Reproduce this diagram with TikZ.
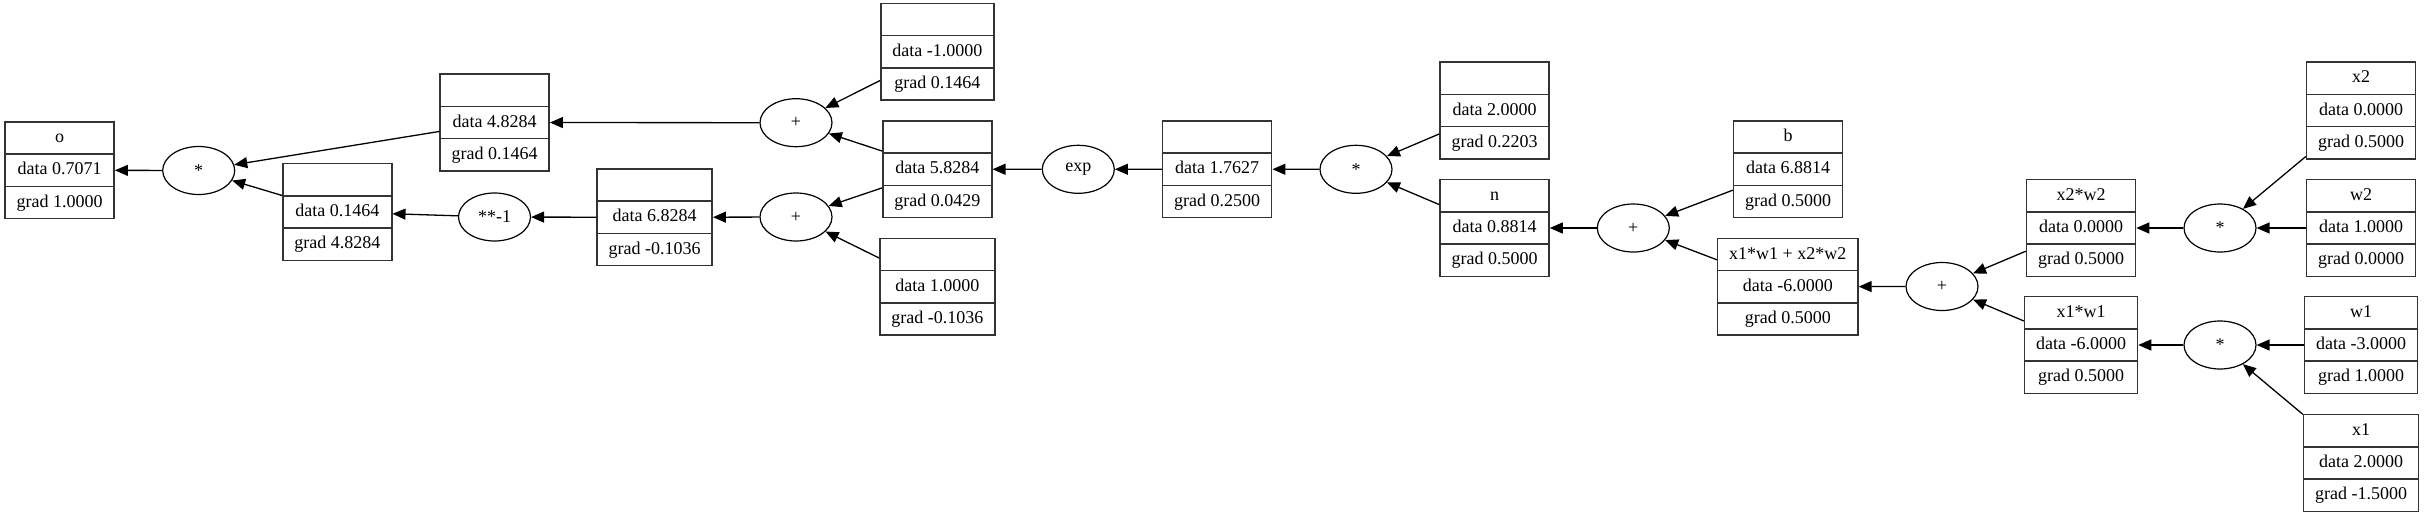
\documentclass[tikz,border=0pt]{standalone}
\usepackage{fontspec}
\setmainfont{Liberation Serif}
\usepackage{tikz}
\usetikzlibrary{shapes.multipart, shapes.geometric, arrows.meta}
\tikzset{every node/.append style={font=\fontsize{18}{20}\selectfont},
  val/.style={rectangle split, rectangle split parts=3, draw=black!80, line width=1.5pt,
    inner xsep=11.5pt, inner ysep=0pt},
  op/.style={ellipse, draw, line width=1.2pt, minimum width=72pt, minimum height=48pt, inner sep=0pt},
  edge/.style={->, line width=1.3pt}}
\newcommand{\rs}{\rule[-10.7pt]{0pt}{30.7pt}}
\newcommand{\valnode}[5]{\node[val] (#1) at (#2) {\rs #3\nodepart{two}\rs data #4\nodepart{three}\rs grad #5};}

\begin{document}
\begin{tikzpicture}[x=1pt, y=-1pt, >={Triangle[length=13pt, width=11pt]}]
    \useasboundingbox (0,0) rectangle (2428,515);
    \valnode{o}{59.7,170.2}{o}{0.7071}{1.0000}
    \valnode{v1}{494.7,122.5}{}{4.8284}{0.1464}
    \valnode{v2}{337.3,212}{}{0.1464}{4.8284}
    \valnode{v3}{654.7,217.3}{}{6.8284}{-0.1036}
    \valnode{v4}{937.3,51.8}{}{-1.0000}{0.1464}
    \valnode{v5}{937.3,169.2}{}{5.8284}{0.0429}
    \valnode{v6}{937.3,286.7}{}{1.0000}{-0.1036}
    \valnode{v7}{1217.2,169.2}{}{1.7627}{0.2500}
    \valnode{v8}{1494.5,110.5}{}{2.0000}{0.2203}
    \valnode{n}{1494.5,228}{n}{0.8814}{0.5000}
    \valnode{b}{1788,169.2}{b}{6.8814}{0.5000}
    \valnode{x1w1x2w2}{1787.8,286.7}{x1*w1 + x2*w2}{-6.0000}{0.5000}
    \valnode{x2w2}{2081,228}{x2*w2}{0.0000}{0.5000}
    \valnode{x1w1}{2081,345}{x1*w1}{-6.0000}{0.5000}
    \valnode{x2}{2361,110.5}{x2}{0.0000}{0.5000}
    \valnode{w2}{2361,228}{w2}{1.0000}{0.0000}
    \valnode{w1}{2361,345}{w1}{-3.0000}{1.0000}
    \valnode{x1}{2361,463}{x1}{2.0000}{-1.5000}

    \node[op] (m1) at (198.7,170.5) {*};
    \node[op] (p1) at (494.5,217) {**-1};
    \node[op] (a1) at (796,122.7) {+};
    \node[op] (a2) at (796,217) {+};
    \node[op] (e1) at (1078.3,169.3) {exp};
    \node[op] (m2) at (1356,169.3) {*};
    \node[op] (a3) at (1633.3,228) {+};
    \node[op] (a4) at (1942,286.5) {+};
    \node[op] (m3) at (2220,228) {*};
    \node[op] (m4) at (2220,345) {*};

    \draw[edge] (m1) -- (o);
    \draw[edge] (v1) -- (m1);
    \draw[edge] (v2) -- (m1);
    \draw[edge] (p1) -- (v2);
    \draw[edge] (v3) -- (p1);
    \draw[edge] (a1) -- (v1);
    \draw[edge] (v4) -- (a1);
    \draw[edge] (v5) -- (a1);
    \draw[edge] (a2) -- (v3);
    \draw[edge] (v5) -- (a2);
    \draw[edge] (v6) -- (a2);
    \draw[edge] (e1) -- (v5);
    \draw[edge] (v7) -- (e1);
    \draw[edge] (m2) -- (v7);
    \draw[edge] (v8) -- (m2);
    \draw[edge] (n) -- (m2);
    \draw[edge] (a3) -- (n);
    \draw[edge] (b) -- (a3);
    \draw[edge] (x1w1x2w2) -- (a3);
    \draw[edge] (a4) -- (x1w1x2w2);
    \draw[edge] (x2w2) -- (a4);
    \draw[edge] (x1w1) -- (a4);
    \draw[edge] (m3) -- (x2w2);
    \draw[edge] (x2) -- (m3);
    \draw[edge] (w2) -- (m3);
    \draw[edge] (m4) -- (x1w1);
    \draw[edge] (w1) -- (m4);
    \draw[edge] (x1) -- (m4);
\end{tikzpicture}
\end{document}
